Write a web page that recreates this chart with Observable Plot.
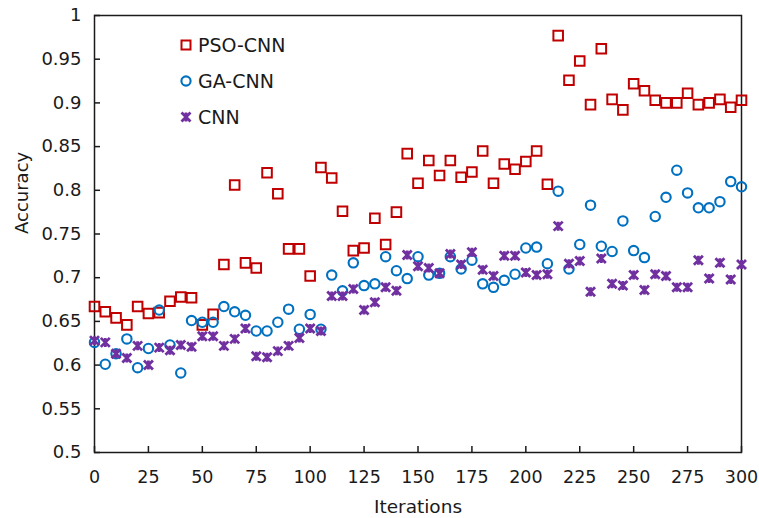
<!DOCTYPE html>
<html><head><meta charset="utf-8">
<script src="https://cdn.jsdelivr.net/npm/d3@7"></script>
<script src="https://cdn.jsdelivr.net/npm/@observablehq/plot@0.6"></script>
<style>
body{margin:0;background:#fff;}
#wrap{position:relative;width:759px;height:518px;font-family:"DejaVu Sans",Verdana,sans-serif;}
.legend{position:absolute;left:179px;top:27px;}
.row{display:flex;align-items:center;height:36px;font-size:19px;color:#1a1a1a;}
.row svg{margin-right:5px;display:block;}
</style></head><body><div id="wrap"></div>
<script>
const iterations = [0,5,10,15,20,25,30,35,40,45,50,55,60,65,70,75,80,85,90,95,100,105,110,115,120,125,130,135,140,145,150,155,160,165,170,175,180,185,190,195,200,205,210,215,220,225,230,235,240,245,250,255,260,265,270,275,280,285,290,295,300];
const psoCnn = [0.667,0.661,0.654,0.646,0.667,0.659,0.660,0.673,0.678,0.677,0.646,0.658,0.715,0.806,0.717,0.711,0.820,0.796,0.733,0.733,0.702,0.826,0.814,0.776,0.731,0.734,0.768,0.738,0.775,0.842,0.808,0.834,0.817,0.834,0.815,0.821,0.845,0.808,0.830,0.824,0.833,0.845,0.807,0.977,0.926,0.948,0.898,0.962,0.904,0.892,0.922,0.914,0.903,0.900,0.900,0.911,0.898,0.900,0.904,0.895,0.903];
const gaCnn = [0.626,0.601,0.613,0.630,0.597,0.619,0.663,0.623,0.591,0.651,0.649,0.649,0.667,0.661,0.657,0.639,0.639,0.649,0.664,0.641,0.658,0.641,0.703,0.685,0.717,0.691,0.693,0.724,0.708,0.699,0.724,0.703,0.705,0.724,0.710,0.720,0.693,0.689,0.697,0.704,0.734,0.735,0.716,0.799,0.710,0.738,0.783,0.736,0.730,0.765,0.731,0.723,0.770,0.792,0.823,0.797,0.780,0.780,0.787,0.810,0.804];
const cnn = [0.628,0.626,0.613,0.608,0.622,0.600,0.620,0.617,0.623,0.621,0.633,0.633,0.622,0.630,0.642,0.610,0.609,0.616,0.622,0.631,0.642,0.639,0.679,0.679,0.687,0.663,0.672,0.689,0.685,0.726,0.713,0.711,0.705,0.727,0.715,0.729,0.709,0.702,0.725,0.725,0.706,0.703,0.704,0.759,0.716,0.719,0.684,0.722,0.693,0.691,0.703,0.686,0.704,0.702,0.689,0.689,0.720,0.699,0.717,0.698,0.715];
const xTicks = [0,25,50,75,100,125,150,175,200,225,250,275,300];
const yTicks = [0.5,0.55,0.6,0.65,0.7,0.75,0.8,0.85,0.9,0.95,1];
const seriesNames = ["PSO-CNN","GA-CNN","CNN"];
const seriesColors = ["#c00000","#0070c0","#7030a0"];

const star = {draw(ctx, size){const r=Math.sqrt(size/Math.PI);ctx.moveTo(-r,-r);ctx.lineTo(r,r);ctx.moveTo(-r,r);ctx.lineTo(r,-r);ctx.moveTo(0,-r);ctx.lineTo(0,r);}};
const toRows = arr => iterations.map((x,i)=>({x, y: arr[i]}));
const fmt = d => String(+d.toFixed(2));
const axisColor = "#1a1a1a";

const chart = Plot.plot({
  width: 759, height: 518,
  marginLeft: 94, marginRight: 18, marginTop: 15, marginBottom: 66,
  style: {fontFamily: '"DejaVu Sans", Verdana, sans-serif', fontSize: "18px", color: axisColor, background: "#fff"},
  x: {domain: [0,300], label: null},
  y: {domain: [0.5,1], label: null},
  marks: [
    Plot.ruleX(xTicks, {x: d=>d, insetTop: 431, stroke: axisColor, strokeWidth: 1.5}),
    Plot.ruleY(yTicks, {y: d=>d, insetRight: 641, stroke: axisColor, strokeWidth: 1.5}),
    Plot.axisX(xTicks, {tickSize: 0, tickPadding: 18, fontSize: 17.5}),
    Plot.axisY(yTicks, {tickSize: 0, tickPadding: 13, tickFormat: fmt, fontSize: 18}),
    Plot.text(["Iterations"], {frameAnchor: "bottom", dy: 60, fontSize: 18.5, fill: axisColor}),
    Plot.text(["Accuracy"], {frameAnchor: "left", rotate: -90, dx: -72, fontSize: 18, fill: axisColor}),
    Plot.frame({stroke: axisColor, strokeWidth: 1.5}),
    Plot.dot(toRows(psoCnn), {x: "x", y: "y", symbol: "square", r: 5.4, stroke: seriesColors[0], strokeWidth: 2, fill: "none"}),
    Plot.dot(toRows(gaCnn), {x: "x", y: "y", symbol: "circle", r: 4.7, stroke: seriesColors[1], strokeWidth: 2.1, fill: "none"}),
    Plot.dot(toRows(cnn), {x: "x", y: "y", symbol: star, r: 4.5, stroke: seriesColors[2], strokeWidth: 2.8, fill: "none"})
  ]
});
const wrap = document.getElementById("wrap");
wrap.appendChild(chart);

const legend = document.createElement("div");
legend.className = "legend";
const shapes = [
  c => `<rect x="2.5" y="2.5" width="9" height="9" fill="none" stroke="${c}" stroke-width="2"/>`,
  c => `<circle cx="7" cy="7" r="4.6" fill="none" stroke="${c}" stroke-width="2.1"/>`,
  c => `<path d="M2.5,2.5L11.5,11.5M2.5,11.5L11.5,2.5M7,2.5L7,11.5" fill="none" stroke="${c}" stroke-width="2.8"/>`
];
seriesNames.forEach((name,i)=>{
  const row = document.createElement("div");
  row.className = "row";
  row.innerHTML = `<svg width="14" height="14" viewBox="0 0 14 14">${shapes[i](seriesColors[i])}</svg><span>${name}</span>`;
  legend.appendChild(row);
});
wrap.appendChild(legend);
</script></body></html>
